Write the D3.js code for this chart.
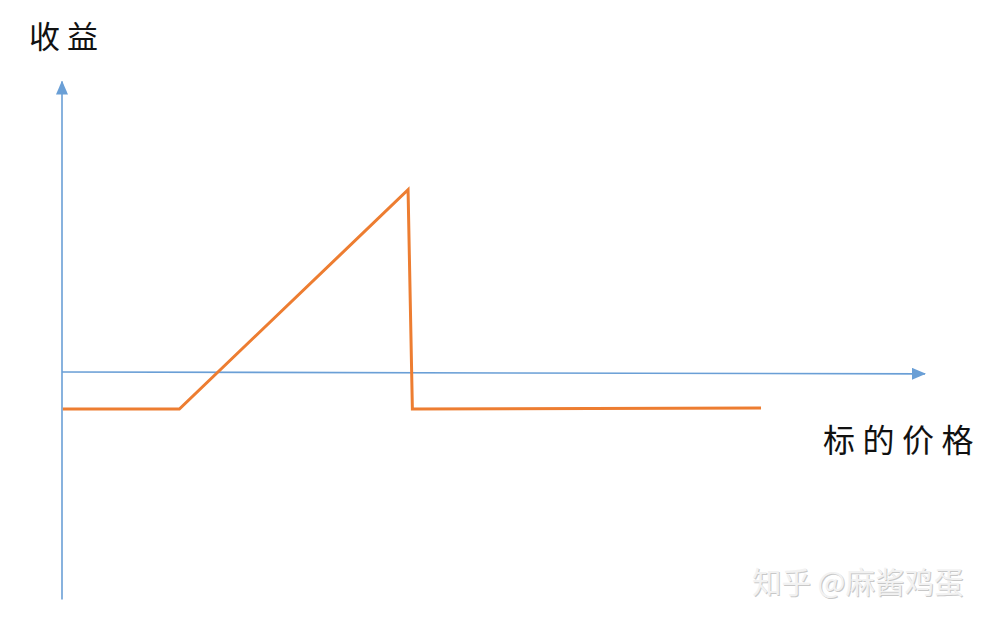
<!DOCTYPE html>
<head>
<meta charset="utf-8">
<script src="https://d3js.org/d3.v7.min.js"></script>
<style>
  body { margin: 0; background: #fff; }
</style>
</head>
<body>
<div id="datavis"></div>
<script>
// payoff of the structure against the underlying price
var prices  = [0.1, 13.6, 40.1, 40.6, 81];
var payoffs = [-2, -2, 9.85, -2, -1.95];
var yLabel = "收益";
var xLabel = "标的价格";
var watermark = "知乎 @麻酱鸡蛋";

var width = 994, height = 621;

var svg = d3.select("#datavis")
  .append("svg")
  .attr("width", width)
  .attr("height", height);

// x(0) sits on the vertical axis, y(0) on the horizontal one
var x = d3.scaleLinear().domain([0, 100]).range([62, 925]);
var y = d3.scaleLinear().domain([-2, 0]).range([409, 372]);

var blue = "#6a9fd6", orange = "#ed7d31";

var defs = svg.append("defs");
defs.append("marker")
  .attr("id", "arrow")
  .attr("viewBox", "0 0 14 12")
  .attr("refX", 13).attr("refY", 6)
  .attr("markerWidth", 14).attr("markerHeight", 12)
  .attr("markerUnits", "userSpaceOnUse")
  .attr("orient", "auto")
  .append("path")
  .attr("d", "M0,0 L14,6 L0,12 Z")
  .attr("fill", blue);

// vertical axis
svg.append("line")
  .attr("x1", x(0)).attr("x2", x(0))
  .attr("y1", y(-12.3)).attr("y2", y(15.7))
  .attr("stroke", blue).attr("stroke-width", 1.6)
  .attr("marker-end", "url(#arrow)");

// horizontal axis
svg.append("line")
  .attr("x1", x(0)).attr("x2", x(100))
  .attr("y1", y(0)).attr("y2", y(-0.1))
  .attr("stroke", blue).attr("stroke-width", 1.6)
  .attr("marker-end", "url(#arrow)");

// payoff line
var pts = prices.map(function(p, i) { return [p, payoffs[i]]; });
svg.append("path")
  .datum(pts)
  .attr("fill", "none")
  .attr("stroke", orange)
  .attr("stroke-width", 3)
  .attr("stroke-linejoin", "miter")
  .attr("d", d3.line().x(function(d) { return x(d[0]); })
                      .y(function(d) { return y(d[1]); }));

var font = "'Noto Sans CJK SC', 'Noto Sans', sans-serif";

svg.append("text")
  .attr("x", 29).attr("y", 48)
  .attr("font-family", font)
  .attr("font-size", 31)
  .attr("letter-spacing", 7)
  .attr("fill", "#111")
  .text(yLabel);

svg.append("text")
  .attr("x", 823).attr("y", 452)
  .attr("font-family", font)
  .attr("font-size", 32)
  .attr("letter-spacing", 7.5)
  .attr("fill", "#111")
  .text(xLabel);

// watermark, faint embossed look
svg.append("text")
  .attr("x", 753).attr("y", 594)
  .attr("font-family", font)
  .attr("font-size", 29.5)
  .attr("fill", "#c8c8c8")
  .text(watermark);
svg.append("text")
  .attr("x", 752).attr("y", 593)
  .attr("font-family", font)
  .attr("font-size", 29.5)
  .attr("fill", "#f2f2f2")
  .text(watermark);
</script>
</body>
